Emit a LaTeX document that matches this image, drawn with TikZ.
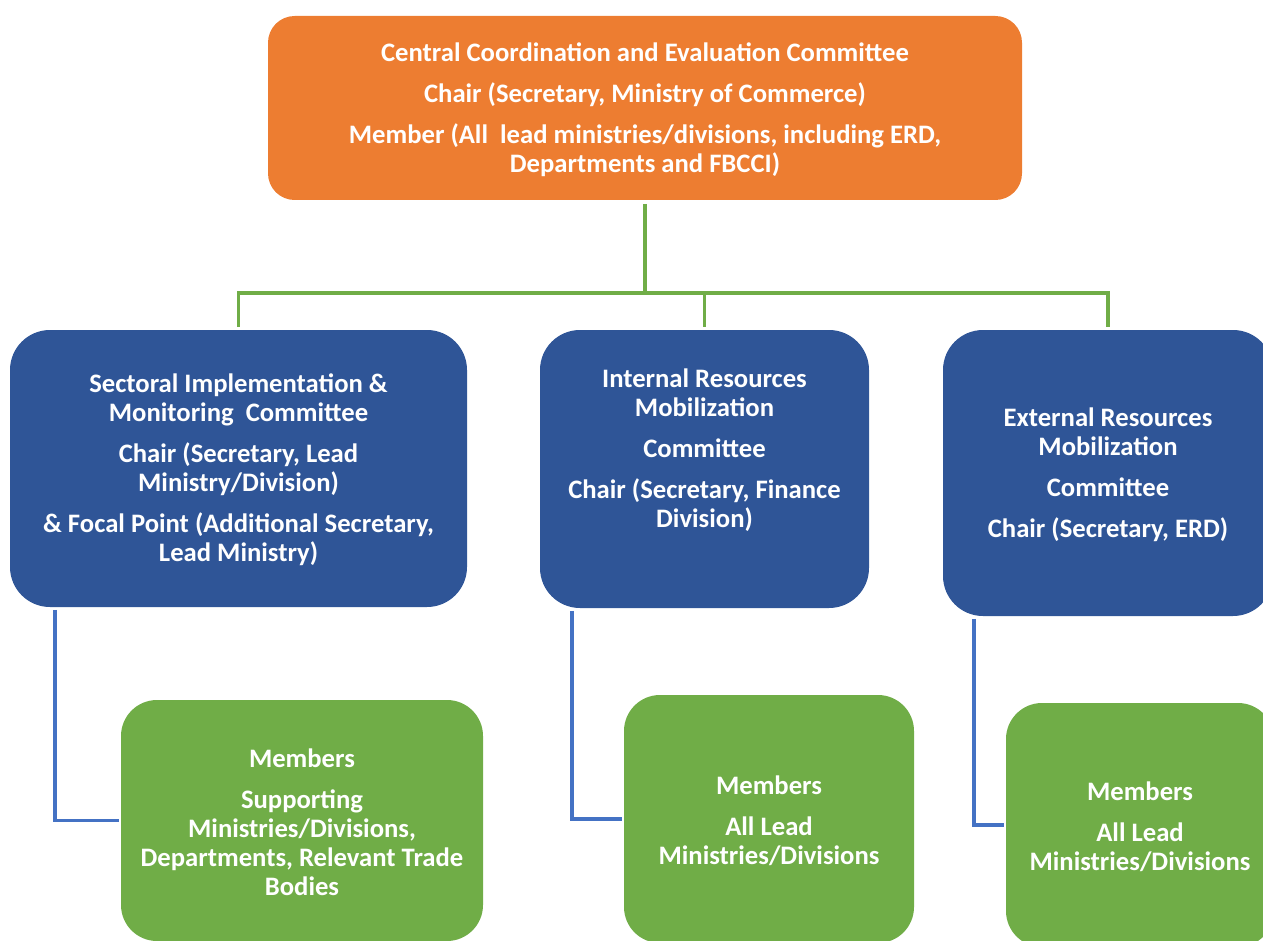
\documentclass[tikz,border=0pt]{standalone}
\usepackage{fontspec}
\setmainfont{Carlito}
\usetikzlibrary{calc}
\definecolor{ccorange}{HTML}{ED7D31}
\definecolor{ccblue}{HTML}{2F5597}
\definecolor{ccgreen}{HTML}{70AD47}
\definecolor{cclink}{HTML}{4472C4}
\tikzset{
  box/.style={fill=#1, inner sep=0pt, outer sep=0pt},
  txt/.style={text=white, align=center, font=\bfseries\fontsize{20}{21.75}\selectfont},
  tree/.style={draw=ccgreen, line width=2.5pt},
  link/.style={draw=cclink, line width=2.5pt, shorten <=2.2pt, shorten >=1.5pt},
}

\begin{document}
\begin{tikzpicture}[x=0.75pt, y=-0.75pt]
    \useasboundingbox (0,0) rectangle (1263,941);
    \clip (0,0) rectangle (1263,941);
    % boxes
    \node[box=ccorange, rounded corners=20pt, minimum width=565.5pt, minimum height=138pt] (ccec) at (645,108) {};
    \node[box=ccblue, rounded corners=30pt, minimum width=342.75pt, minimum height=207.75pt] (sim) at (238.5,468.5) {};
    \node[box=ccblue, rounded corners=30pt, minimum width=246.75pt, minimum height=208.5pt] (irm) at (704.5,469) {};
    \node[box=ccblue, rounded corners=30pt, minimum width=247.5pt, minimum height=214.5pt] (erm) at (1108,473) {};
    \node[box=ccgreen, rounded corners=27pt, minimum width=271.5pt, minimum height=180.75pt] (simm) at (302,820.5) {};
    \node[box=ccgreen, rounded corners=27pt, minimum width=217.5pt, minimum height=186pt] (irmm) at (769,819) {};
    \node[box=ccgreen, rounded corners=27pt, minimum width=201pt, minimum height=183pt] (ermm) at (1140,825) {};
    % texts
    \node[txt] (ccectext) at (645,109.5) {Central Coordination and Evaluation Committee\\[9pt]
      Chair (Secretary, Ministry of Commerce)\\[9pt]
      Member (All~ lead ministries/divisions, including ERD,\\ Departments and FBCCI)};
    \node[txt] (simtext) at (238.5,469.5) {Sectoral Implementation \&\\ Monitoring~ Committee\\[9pt]
      Chair (Secretary, Lead\\ Ministry/Division)\\[9pt]
      \& Focal Point (Additional Secretary,\\ Lead Ministry)};
    \node[txt] (irmtext) at (704.5,450) {Internal Resources\\ Mobilization\\[9pt]
      Committee\\[9pt]
      Chair (Secretary, Finance\\ Division)};
    \node[txt] (ermtext) at (1108,474.5) {External Resources\\ Mobilization\\[9pt]
      Committee\\[9pt]
      Chair (Secretary, ERD)};
    \node[txt] (simmtext) at (302,822) {Members\\[9pt]
      Supporting\\ Ministries/Divisions,\\ Departments, Relevant Trade\\ Bodies};
    \node[txt] (irmmtext) at (769,820.5) {Members\\[9pt] All Lead\\ Ministries/Divisions};
    \node[txt] (ermmtext) at (1140,826.5) {Members\\[9pt] All Lead\\ Ministries/Divisions};
    % connectors
    \draw[tree, shorten <=3pt] (ccec.south) -- ++(0,93) coordinate (fork);
    \draw[tree, shorten >=2.2pt] (fork) -| (sim.north);
    \draw[tree, shorten >=2.2pt] (fork) -| (irm.north);
    \draw[tree, shorten >=2.2pt] (fork) -| (erm.north);
    \draw[link] ($(sim.south west)+(45,0)$) |- (simm.west);
    \draw[link] ($(irm.south west)+(32,0)$) |- (irmm.west);
    \draw[link] ($(erm.south west)+(31,0)$) |- (ermm.west);
\end{tikzpicture}
\end{document}
